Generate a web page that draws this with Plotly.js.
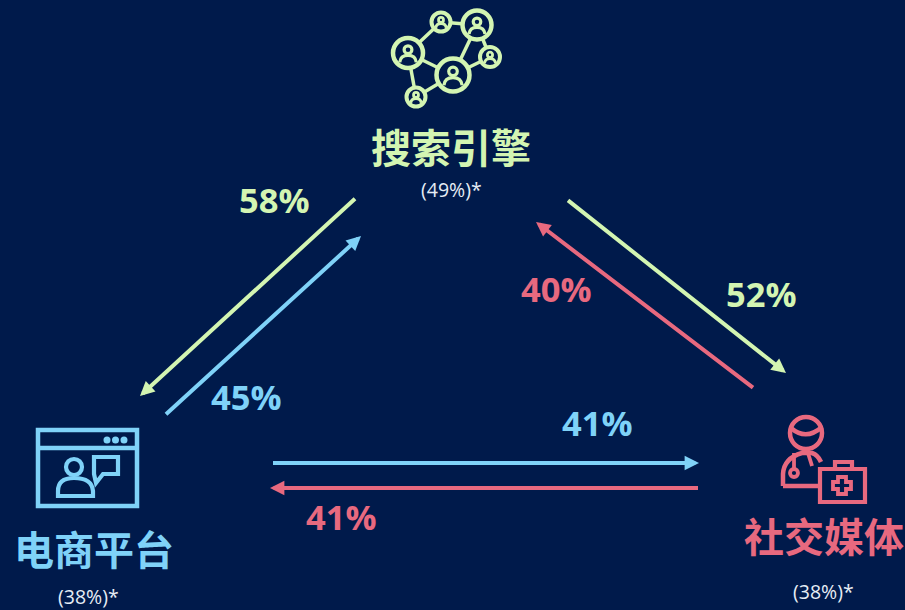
<!DOCTYPE html>
<html>
<head>
<meta charset="utf-8">
<script src="https://cdn.plot.ly/plotly-3.0.1.min.js"></script>
<style>html,body{margin:0;padding:0;background:#001a4b;overflow:hidden}#chart{width:905px;height:610px}</style>
</head>
<body>
<div id="chart"></div>
<script>
// Channels and their overlap shares
const channels = ['搜索引擎', '电商平台', '社交媒体'];
const channelShares = [49, 38, 38];
const flowValues = [58, 45, 52, 40, 41, 41];
const flowColors = ['green', 'blue', 'green', 'red', 'blue', 'red'];

const palette = {green: '#d3f5b2', blue: '#7fd2f8', red: '#e8697f'};
const bg = '#001a4b';
const cjk = '"Noto Sans CJK SC", "Noto Sans", sans-serif';
const latin = '"Open Sans", "Noto Sans", sans-serif';

// Placement of each flow arrow and its label, in pixel-scale axis units
const flowTails = [[358, 196], [163, 417], [565, 198], [756, 390], [270, 463], [701, 488]];
const flowHeads = [[140, 396], [361, 236], [786, 373], [536, 222], [699, 463], [270, 488]];
const flowLabels = [[274, 199], [246, 396], [761, 293], [556, 288], [597, 422], [341, 516]];
const channelSpots = [[451, 146], [94, 548], [824, 535]];
const shareSpots = [[451, 189], [88, 596], [823, 591]];

const annotations = [];
flowValues.forEach((v, i) => {
  annotations.push({
    x: flowHeads[i][0], y: flowHeads[i][1], ax: flowTails[i][0], ay: flowTails[i][1],
    xref: 'x', yref: 'y', axref: 'x', ayref: 'y',
    showarrow: true, arrowhead: 2, arrowsize: 0.72, arrowwidth: 4,
    arrowcolor: palette[flowColors[i]], text: ' '
  });
  annotations.push({
    x: flowLabels[i][0], y: flowLabels[i][1], xref: 'x', yref: 'y',
    showarrow: false, text: '<b>' + v + '%</b>',
    font: {family: latin, size: 34.5, color: palette[flowColors[i]]}
  });
});
const channelColors = [palette.green, palette.blue, palette.red];
channels.forEach((name, i) => {
  annotations.push({
    x: channelSpots[i][0], y: channelSpots[i][1], xref: 'x', yref: 'y', showarrow: false,
    text: '<b>' + name + '</b>', font: {family: cjk, size: 40, color: channelColors[i]}
  });
  annotations.push({
    x: shareSpots[i][0], y: shareSpots[i][1], xref: 'x', yref: 'y', showarrow: false,
    text: '(' + channelShares[i] + '%)*', font: {family: latin, size: 19.5, color: '#e6edf5'}
  });
});

// Icon helpers
const shapes = [];
function stroke(color, w) { return {color: color, width: w}; }
function circle(cx, cy, r, color, w, fill) {
  shapes.push({type: 'circle', xref: 'x', yref: 'y', x0: cx - r, x1: cx + r, y0: cy - r, y1: cy + r,
    line: stroke(color, w), fillcolor: fill || 'rgba(0,0,0,0)'});
}
function path(d, color, w, fill) {
  shapes.push({type: 'path', xref: 'x', yref: 'y', path: d, line: stroke(color, w),
    fillcolor: fill || 'rgba(0,0,0,0)'});
}
function rect(x0, y0, x1, y1, color, w, fill) {
  shapes.push({type: 'rect', xref: 'x', yref: 'y', x0, x1, y0, y1, line: stroke(color, w),
    fillcolor: fill || 'rgba(0,0,0,0)'});
}

// Network of people above the search channel
const g = palette.green;
const nodes = [[441, 22, 9.5], [477, 25, 14.5], [408, 53, 15], [453, 75, 16.5], [490, 57, 10], [416, 97, 9.5]];
const links = [[0, 1], [0, 2], [1, 3], [1, 4], [2, 3], [2, 5], [3, 4], [3, 5]];
links.forEach(([a, b]) => {
  path('M' + nodes[a][0] + ',' + nodes[a][1] + ' L' + nodes[b][0] + ',' + nodes[b][1], g, 3.5);
});
nodes.forEach(([cx, cy, r]) => {
  const big = r > 12;
  circle(cx, cy, r, g, big ? 4.5 : 4, bg);
  const lw = big ? 3.2 : 2.8;
  circle(cx, cy - r * 0.22, r * 0.26, g, lw);
  path('M' + (cx - r * 0.55) + ',' + (cy + r * 0.62) +
       ' Q' + (cx - r * 0.5) + ',' + (cy + r * 0.16) + ' ' + cx + ',' + (cy + r * 0.16) +
       ' Q' + (cx + r * 0.5) + ',' + (cy + r * 0.16) + ' ' + (cx + r * 0.55) + ',' + (cy + r * 0.62), g, lw);
});

// Browser window with a person and a speech bubble
const b = palette.blue;
rect(38, 430, 137, 506, b, 4.5);
path('M38,448 L137,448', b, 4.5);
[107, 115.5, 124].forEach(x => circle(x, 440, 2.6, b, 1.8, b));
circle(74, 467, 8, b, 4.2);
path('M58,496 L58,491 Q58,478 74,478 Q92,478 93,491 L93,496 Z', b, 4.2);
path('M94,457 L118,457 L118,474 L103,474 L96,483 L94,474 Z', b, 4.2);

// Doctor with a first-aid case
const r = palette.red;
circle(806, 433, 16, r, 4.5);
path('M791,428 Q806,441 822,427', r, 4.5);
path('M783,486 L783,474 Q784,458 802,453 L812,453 Q818,455 821,462', r, 4.5);
path('M783,486 L818,486', r, 4.5);
path('M794,453 L794,469', r, 3.8);
circle(794, 473, 4, r, 3.8);
path('M808,453 L812,466', r, 3.8);
rect(820, 469, 865, 502, r, 4.2, bg);
path('M835,469 L835,462 L852,462 L852,469', r, 4.2);
path('M838,477 L846,477 L846,482 L851,482 L851,489 L846,489 L846,494 L838,494 L838,489 L833,489 L833,482 L838,482 Z', r, 3.8);

const layout = {
  width: 905, height: 610,
  margin: {l: 0, r: 0, t: 0, b: 0},
  paper_bgcolor: bg, plot_bgcolor: bg,
  showlegend: false,
  xaxis: {range: [0, 905], visible: false, fixedrange: true},
  yaxis: {range: [610, 0], visible: false, fixedrange: true},
  annotations, shapes
};
Plotly.newPlot('chart', [{x: [], y: [], type: 'scatter', mode: 'markers'}], layout, {displayModeBar: false, staticPlot: true});
</script>
</body>
</html>
